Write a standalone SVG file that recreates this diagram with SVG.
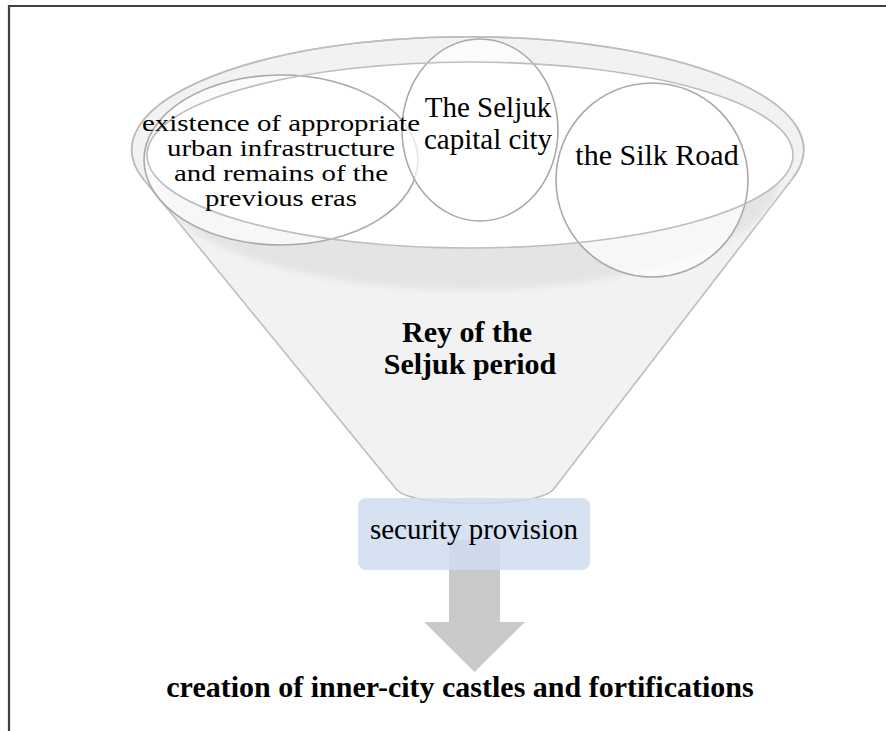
<svg xmlns="http://www.w3.org/2000/svg" width="886" height="731" viewBox="0 0 886 731">
<style>
.t{font-family:"Liberation Serif","Times New Roman",serif;fill:#000;text-anchor:middle}
.b{font-weight:bold}
.rim{fill:none;stroke:#bdbdbd;stroke-width:1.6}
.circ{fill:#fff;fill-opacity:0.7;stroke:#a9a9a9;stroke-width:1.6}
</style>
<defs>
<clipPath id="fc"><path d="M144,180 A336,113 0 1 1 793,178 L553,490 C535,508 415,508 397,490 Z"/></clipPath>
<filter id="bl" x="-5%" y="-5%" width="110%" height="110%"><feGaussianBlur stdDeviation="3"/></filter>
</defs>
<rect width="886" height="731" fill="#fff"/>
<path d="M9,731 V6 H886" fill="none" stroke="#404040" stroke-width="2.2"/>
<g id="funnel">
<path d="M144,180 A336,113 0 1 1 793,178 L553,490 C535,508 415,508 397,490 Z" fill="#f2f2f2" stroke="#bdbdbd" stroke-width="1.6"/>
<g clip-path="url(#fc)"><ellipse cx="468" cy="180" rx="310" ry="110" fill="#e4e4e4" filter="url(#bl)"/></g>
<ellipse cx="470" cy="155" rx="323" ry="93" fill="#fff"/>
</g>
<g id="node-existence">
<ellipse class="circ" cx="281" cy="160" rx="137" ry="85"/>
</g>
<g id="node-capital">
<ellipse class="circ" cx="480" cy="130" rx="78" ry="91"/>
</g>
<g id="node-silk">
<ellipse class="circ" cx="652" cy="180" rx="96" ry="97"/>
</g>
<g id="rim-lines">
<path class="rim" d="M144,180 A336,113 0 1 1 793,178"/>
<ellipse class="rim" cx="470" cy="155" rx="323" ry="93"/>
</g>
<g id="labels">
<text class="t" font-size="22.5" x="281" y="131" textLength="278" lengthAdjust="spacingAndGlyphs">existence of appropriate</text>
<text class="t" font-size="22.5" x="281" y="156" textLength="228" lengthAdjust="spacingAndGlyphs">urban infrastructure</text>
<text class="t" font-size="22.5" x="281" y="181" textLength="214" lengthAdjust="spacingAndGlyphs">and remains of the</text>
<text class="t" font-size="22.5" x="281" y="206" textLength="152" lengthAdjust="spacingAndGlyphs">previous eras</text>
<text class="t" font-size="29"><tspan x="488" y="117">The Seljuk</tspan><tspan x="488" y="149">capital city</tspan></text>
<text class="t" font-size="30" x="657" y="165">the Silk Road</text>
</g>
<g id="node-rey">
<text class="t b" font-size="30"><tspan x="467" y="342">Rey of the</tspan><tspan x="470" y="374">Seljuk period</tspan></text>
</g>
<g id="connectors">
<polygon points="449,540 500,540 500,622 525,622 474.5,672 424,622 449,622" fill="#c9c9c9"/>
</g>
<g id="node-security">
<rect x="358" y="498" width="232" height="72" rx="8" fill="#cfdcef" fill-opacity="0.85"/>
<text class="t" font-size="30" x="474" y="539" textLength="208" lengthAdjust="spacingAndGlyphs">security provision</text>
</g>
<g id="node-result">
<text class="t b" font-size="30" x="460" y="697">creation of inner-city castles and fortifications</text>
</g>
</svg>
